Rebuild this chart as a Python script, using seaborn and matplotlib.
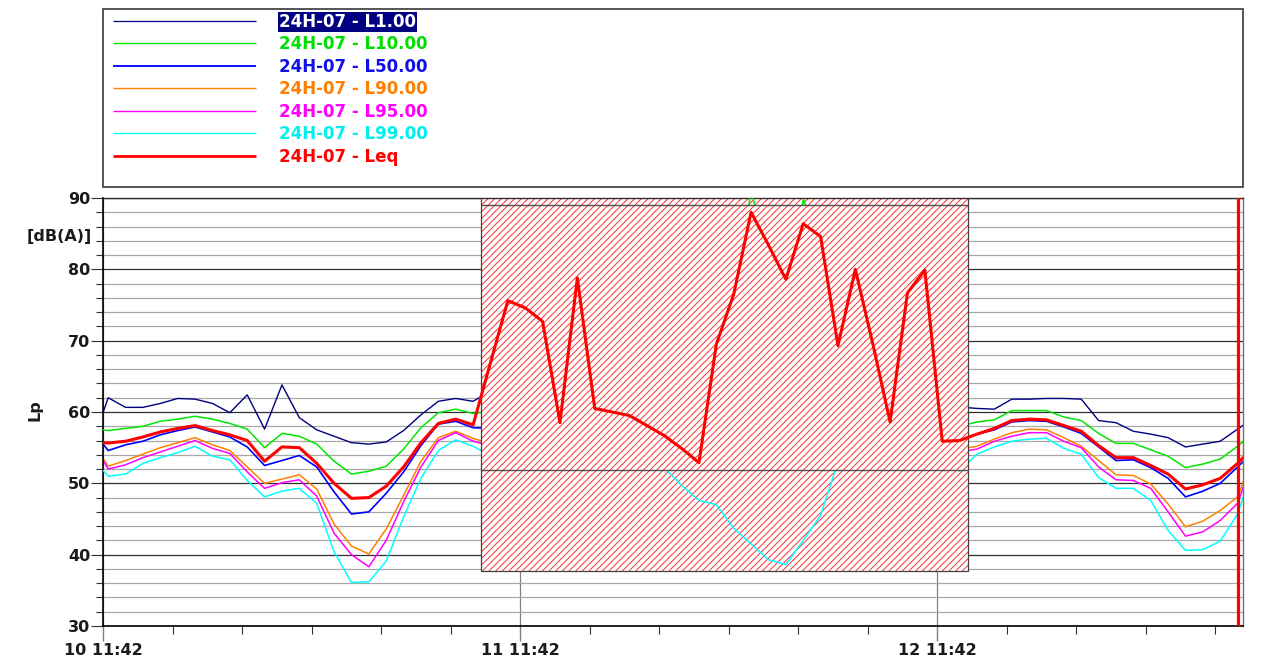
import numpy as np
import pandas as pd
import matplotlib
matplotlib.use("Agg")
import matplotlib.pyplot as plt
import seaborn as sns
from matplotlib.patches import Rectangle
from matplotlib.ticker import MultipleLocator, FixedLocator, NullFormatter
from matplotlib.transforms import ScaledTranslation

sns.set_style("white")
plt.rcParams['font.family'] = ['DejaVu Sans']
plt.rcParams['hatch.linewidth'] = 0.65

# ---------------- data ----------------
# hours since "10 11:42": first sample at 11:42, then hourly from 12:00
hours = [0.0] + [0.3 + h for h in range(67)]

L1 = [59.9,
      62.0, 60.65, 60.65, 61.2, 61.9, 61.8, 61.2, 59.9, 62.4, 57.6,
      63.8, 59.2, 57.5, 56.6, 55.7, 55.5, 55.8, 57.4, 59.6, 61.5,
      61.9, 61.5, 62.9, 70.0, 68.5, 66.0, 64.0, 73.0, 65.0, 64.0,
      63.5, 62.8, 62.0, 61.0, 60.0, 70.0, 84.0, 97.0, 92.0, 86.0,
      95.0, 92.0, 78.0, 85.0, 70.0, 66.0, 82.0, 85.0, 63.0, 60.7,
      60.5, 60.4, 61.8, 61.8, 61.9, 61.9, 61.8, 58.8, 58.5, 57.3,
      56.9, 56.4, 55.1, 55.5, 55.9, 57.6, 59.3]

L10 = [57.5,
       57.4, 57.7, 58.0, 58.7, 59.0, 59.4, 59.0, 58.4, 57.6, 55.0,
       57.0, 56.6, 55.5, 53.1, 51.3, 51.7, 52.4, 54.8, 57.8, 59.9,
       60.4, 59.8, 60.1, 63.5, 62.8, 61.9, 60.8, 64.5, 61.6, 61.2,
       60.9, 60.3, 59.6, 58.4, 57.2, 62.5, 76.0, 91.0, 82.0, 72.5,
       89.8, 84.0, 63.5, 71.0, 62.5, 61.9, 70.5, 74.0, 59.8, 58.0,
       58.6, 58.9, 60.2, 60.2, 60.2, 59.3, 58.8, 57.0, 55.6, 55.6,
       54.7, 53.8, 52.2, 52.7, 53.4, 55.2, 57.2]

L50 = [55.5,
       54.6, 55.4, 55.9, 56.8, 57.4, 57.9, 57.2, 56.5, 55.1, 52.5,
       53.2, 53.9, 52.3, 48.8, 45.7, 46.0, 48.6, 51.6, 55.3, 58.3,
       58.7, 57.8, 57.7, 58.4, 58.9, 59.3, 59.6, 59.8, 59.5, 59.0,
       58.6, 57.8, 56.9, 55.4, 54.0, 53.5, 51.2, 49.6, 47.5, 46.8,
       49.8, 52.9, 57.6, 59.0, 59.7, 60.1, 60.3, 59.6, 57.9, 56.2,
       56.9, 57.5, 58.6, 58.8, 58.7, 57.9, 57.0, 55.1, 53.2, 53.3,
       52.2, 50.7, 48.1, 48.9, 50.0, 52.3, 54.6]

L90 = [53.5,
       52.4, 53.2, 54.1, 55.0, 55.7, 56.4, 55.4, 54.6, 52.3, 50.0,
       50.6, 51.2, 49.2, 44.3, 41.2, 40.1, 43.6, 48.3, 53.1, 56.4,
       57.3, 56.3, 55.6, 56.2, 56.8, 57.3, 57.7, 58.0, 57.7, 57.1,
       56.6, 55.6, 54.5, 52.6, 50.9, 50.2, 47.4, 45.3, 42.9, 42.0,
       45.8, 49.3, 55.4, 56.9, 57.6, 58.1, 58.3, 57.5, 55.6, 54.8,
       55.2, 56.2, 57.1, 57.6, 57.5, 56.4, 55.2, 53.2, 51.2, 51.1,
       49.9, 47.1, 43.9, 44.7, 46.2, 48.1, 54.6]

L95 = [53.2,
       52.0, 52.6, 53.6, 54.4, 55.2, 56.0, 54.9, 54.2, 51.6, 49.3,
       50.1, 50.5, 48.2, 43.0, 40.0, 38.3, 42.0, 47.4, 52.3, 56.0,
       57.1, 55.9, 55.3, 55.6, 56.1, 56.6, 57.0, 57.3, 57.0, 56.4,
       55.8, 54.8, 53.6, 51.4, 49.6, 48.8, 45.8, 43.6, 41.2, 40.3,
       44.0, 47.6, 54.5, 56.1, 56.9, 57.4, 57.6, 56.8, 55.0, 54.4,
       54.8, 55.9, 56.6, 57.1, 57.1, 55.9, 55.0, 52.3, 50.5, 50.4,
       49.3, 46.0, 42.6, 43.2, 44.8, 47.2, 54.0]

L99 = [51.8,
       51.0, 51.3, 52.8, 53.6, 54.3, 55.2, 53.8, 53.3, 50.4, 48.1,
       48.9, 49.3, 47.2, 40.4, 36.1, 36.2, 39.1, 45.3, 50.7, 54.6,
       56.1, 55.2, 53.9, 54.5, 55.0, 55.4, 55.9, 56.2, 55.8, 55.3,
       54.6, 53.4, 52.2, 49.7, 47.6, 47.0, 43.7, 41.5, 39.3, 38.6,
       42.0, 45.5, 53.0, 54.8, 55.6, 56.2, 56.5, 55.5, 53.4, 51.7,
       54.1, 55.1, 55.9, 56.2, 56.3, 54.9, 54.1, 50.8, 49.3, 49.3,
       47.6, 43.4, 40.6, 40.7, 41.9, 45.7, 53.0]

Leq = [55.7,
       55.65, 55.9, 56.5, 57.2, 57.7, 58.1, 57.4, 56.8, 56.0, 53.1,
       55.1, 55.0, 52.8, 50.0, 47.9, 48.0, 49.6, 52.3, 55.7, 58.4,
       59.0, 58.2, 66.9, 75.6, 74.6, 72.7, 58.5, 78.8, 60.5, 60.0,
       59.5, 58.1, 56.7, 54.9, 52.9, 69.5, 76.5, 88.0, 83.4, 78.6,
       86.4, 84.6, 69.3, 80.0, 69.6, 58.6, 76.7, 79.9, 55.9, 56.0,
       56.9, 57.7, 58.8, 59.0, 58.9, 58.1, 57.3, 55.3, 53.6, 53.6,
       52.5, 51.3, 49.2, 49.8, 50.7, 52.8, 55.3]

series_names = ["24H-07 - L1.00", "24H-07 - L10.00", "24H-07 - L50.00",
                "24H-07 - L90.00", "24H-07 - L95.00", "24H-07 - L99.00",
                "24H-07 - Leq"]
series_values = [L1, L10, L50, L90, L95, L99, Leq]

x_tick_hours = [0, 24, 48]
x_tick_labels = ["10 11:42", "11 11:42", "12 11:42"]

# marked (excluded) period and cursor
excl_start, excl_end = 21.76, 49.78
excl_low, excl_mid, excl_top = 37.7, 51.83, 88.98
cursor_hour = 65.33

# ---------------- styles ----------------
colors = ["#000080", "#00e600", "#0000ff", "#ff8000", "#ff00ff", "#00ffff", "#ff0000"]
text_colors = ["#ffffff", "#00e000", "#1010e8", "#ff8000", "#ff00ff", "#00f0f0", "#ff0000"]
plot_lw = [1.0, 1.1, 1.2, 1.1, 1.1, 1.1, 2.2]
legend_lw = [0.9, 1.0, 1.3, 1.0, 1.0, 1.0, 2.0]
zorders = [2, 3, 2, 2, 2, 4, 6]

W, H = 1262, 662
fig = plt.figure(figsize=(W / 100, H / 100), dpi=100)
fig.patch.set_facecolor("white")

ax = fig.add_axes([103 / W, 1 - 626 / H, 1140 / W, 428 / H])
ax.set_facecolor("white")

df = pd.DataFrame({"hour": hours})
for name, vals in zip(series_names, series_values):
    df[name] = vals

for name, c, lw, z in zip(series_names, colors, plot_lw, zorders):
    sns.lineplot(data=df, x="hour", y=name, ax=ax, color=c, lw=lw,
                 zorder=z, legend=False)

# hatched marking of the excluded period (three layers)
hatch = "/////"
hcol = "#ff2020"
w = excl_end - excl_start
ax.add_patch(Rectangle((excl_start, excl_top), w, 95 - excl_top, facecolor="white",
                       edgecolor=hcol, lw=0, hatch=hatch, zorder=2.5))
ax.add_patch(Rectangle((excl_start, excl_low), w, excl_mid - excl_low, facecolor="white",
                       edgecolor=hcol, lw=0, hatch=hatch, zorder=3.5))
ax.add_patch(Rectangle((excl_start, excl_mid), w, excl_top - excl_mid, facecolor="white",
                       edgecolor=hcol, lw=0, hatch=hatch, zorder=5))
ax.add_patch(Rectangle((excl_start, excl_low), w, 95 - excl_low, fill=False,
                       edgecolor="#404040", lw=0.9, zorder=5.5))
ax.hlines([excl_mid, excl_top], excl_start, excl_end, colors="#505050", lw=1.0, zorder=5.5)

ax.axvline(cursor_hour, color="#ff0000", lw=2.3, zorder=7)

# axes
ax.set_xlim(0, 65.61)
ax.set_ylim(30, 90)
ax.set_xlabel("")
ax.set_ylabel("")
ax.yaxis.set_major_locator(MultipleLocator(10))
ax.yaxis.set_minor_locator(MultipleLocator(2))
ax.xaxis.set_major_locator(FixedLocator(x_tick_hours))
ax.set_xticklabels(x_tick_labels)
ax.xaxis.set_minor_locator(MultipleLocator(4))
ax.xaxis.set_minor_formatter(NullFormatter())

ax.set_axisbelow(True)
ax.grid(which="minor", axis="y", color="#a8a8a8", lw=0.9)
ax.grid(which="major", axis="y", color="#303030", lw=0.9)
ax.grid(which="major", axis="x", color="#808080", lw=0.9)

for lab in ax.get_xticklabels() + ax.get_yticklabels():
    lab.set_fontweight("bold")
    lab.set_fontsize(11.5)
    lab.set_color("#1a1a1a")
shift = ScaledTranslation(4 / 100, 0, fig.dpi_scale_trans)
for lab in ax.get_xticklabels():
    lab.set_transform(lab.get_transform() + shift)

ax.tick_params(axis="y", which="major", length=8.4, width=0.8, color="#303030", pad=0.8, left=True)
ax.tick_params(axis="y", which="minor", length=4.8, width=0.8, color="#303030", left=True)
ax.tick_params(axis="x", which="major", length=11, width=1.0, color="#808080", pad=1.5, bottom=True)
ax.tick_params(axis="x", which="minor", length=5.5, width=0.8, color="#303030", bottom=True)

ax.spines["left"].set_color("#000000")
ax.spines["left"].set_linewidth(1.2)
ax.spines["bottom"].set_color("#000000")
ax.spines["bottom"].set_linewidth(1.2)
ax.spines["top"].set_color("#303030")
ax.spines["top"].set_linewidth(1.0)
ax.spines["right"].set_color("#707070")
ax.spines["right"].set_linewidth(1.0)

# overlay (pixel coordinates) for legend and axis texts
lax = fig.add_axes([0, 0, 1, 1], zorder=-1)
lax.set_xlim(0, W)
lax.set_ylim(H, 0)
lax.axis("off")

lax.add_patch(Rectangle((103, 9), 1140, 178, fill=False, edgecolor="#555555", lw=1.4))
for i, (name, c, tc, lw) in enumerate(zip(series_names, colors, text_colors, legend_lw)):
    yc = 20.7 + 22.5 * i
    lax.plot([113, 256], [yc, yc], color=c, lw=lw, solid_capstyle="butt")
    kw = {}
    if i == 0:
        kw["bbox"] = dict(facecolor="#000080", edgecolor="none", pad=0.6)
    lax.text(279, yc + 6.0, name, color=tc, fontsize=12, fontweight="bold",
             ha="left", va="baseline", **kw)

lax.text(92, 237, "[dB(A)]", ha="right", va="center", fontsize=11.5,
         fontweight="bold", color="#1a1a1a")
lax.text(35, 410, "Lp", ha="center", va="center", rotation=90, fontsize=11.5,
         fontweight="bold", color="#1a1a1a")

fig.savefig("out.png", dpi=100, facecolor="white")
